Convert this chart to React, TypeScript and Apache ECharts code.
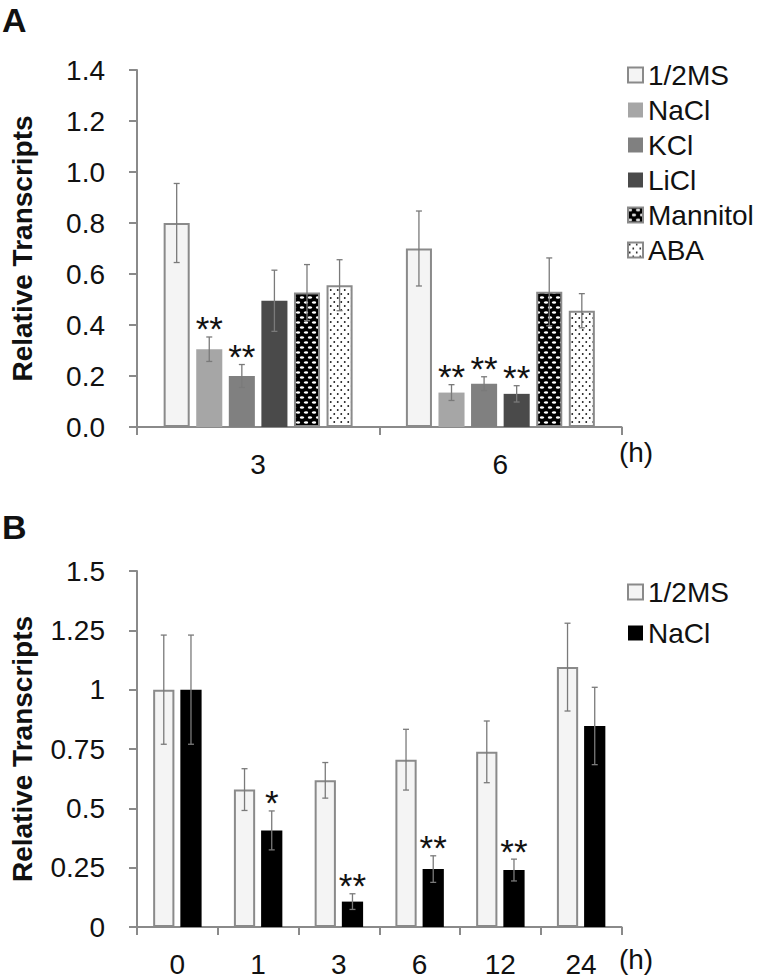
import React, { useEffect, useRef } from 'react';
import * as echarts from 'echarts';

// ---------- Panel A data ----------
const hoursA = ['3', '6'];
const namesA = ['1/2MS', 'NaCl', 'KCl', 'LiCl', 'Mannitol', 'ABA'];
const msA = [0.8, 0.7];
const msErrA = [0.155, 0.147];
const naclA = [0.305, 0.135];
const naclErrA = [0.048, 0.031];
const kclA = [0.2, 0.17];
const kclErrA = [0.045, 0.027];
const liclA = [0.495, 0.13];
const liclErrA = [0.12, 0.032];
const mannitolA = [0.527, 0.53];
const mannitolErrA = [0.11, 0.133];
const abaA = [0.556, 0.456];
const abaErrA = [0.1, 0.067];
const msStarsA = ['', ''];
const naclStarsA = ['**', '**'];
const kclStarsA = ['**', '**'];
const liclStarsA = ['', '**'];
const mannitolStarsA = ['', ''];
const abaStarsA = ['', ''];
const ticksA = [0, 0.2, 0.4, 0.6, 0.8, 1.0, 1.2, 1.4];

// ---------- Panel B data ----------
const hoursB = ['0', '1', '3', '6', '12', '24'];
const namesB = ['1/2MS', 'NaCl'];
const msB = [1.0, 0.579, 0.618, 0.705, 0.738, 1.095];
const msErrB = [0.23, 0.088, 0.075, 0.128, 0.13, 0.185];
const naclB = [1.0, 0.407, 0.107, 0.244, 0.24, 0.847];
const naclErrB = [0.23, 0.082, 0.033, 0.056, 0.046, 0.163];
const msStarsB = ['', '', '', '', '', ''];
const naclStarsB = ['', '*', '**', '**', '**', ''];
const ticksB = [0, 0.25, 0.5, 0.75, 1, 1.25, 1.5];

const FONT = "'Liberation Sans', Arial, Helvetica, sans-serif";
const AXIS = '#8a8a8a';
const INK = '#111111';
const BSUFFIX = ' (B)';

function makePattern(kind: string) {
  const c = document.createElement('canvas');
  const ctx = c.getContext('2d') as CanvasRenderingContext2D;
  if (kind === 'mannitol') {
    c.width = 8;
    c.height = 10;
    ctx.fillStyle = '#000';
    ctx.fillRect(0, 0, 8, 10);
    ctx.fillStyle = '#fff';
    const ovals = [[2, 2.5], [6, 7.5], [10, 2.5], [-2, 7.5]];
    ovals.forEach(([x, y]) => {
      ctx.beginPath();
      ctx.ellipse(x, y, 2.2, 1.2, 0, 0, Math.PI * 2);
      ctx.fill();
    });
    return { image: c, repeat: 'repeat', imageWidth: 8, imageHeight: 10 };
  }
  c.width = 7;
  c.height = 8;
  ctx.fillStyle = '#fff';
  ctx.fillRect(0, 0, 7, 8);
  ctx.fillStyle = '#1a1a1a';
  [[1.75, 2], [5.25, 6]].forEach(([x, y]) => {
    ctx.beginPath();
    ctx.arc(x, y, 0.95, 0, Math.PI * 2);
    ctx.fill();
  });
  return { image: c, repeat: 'repeat', imageWidth: 7, imageHeight: 8 };
}

function errorSeries(
  axisIdx: number,
  vals: number[],
  errs: number[],
  stars: string[],
  idx: number,
  n: number,
  catGap: number,
  barGap: number
) {
  return {
    type: 'custom',
    xAxisIndex: axisIdx,
    yAxisIndex: axisIdx,
    z: 5,
    silent: true,
    data: vals.map((v, i) => [i, v, errs[i]]),
    renderItem: (params: any, api: any) => {
      const i = api.value(0);
      const m = api.value(1);
      const e = api.value(2);
      const band = api.size([1, 0])[0];
      const w = (band * (1 - catGap)) / (n + (n - 1) * barGap);
      const total = n * w + (n - 1) * barGap * w;
      const off = -total / 2 + w / 2 + idx * w * (1 + barGap);
      const top = api.coord([i, m + e]);
      const bot = api.coord([i, m - e]);
      const x = top[0] + off;
      const st = { stroke: '#7a7a7a', lineWidth: 1.3 };
      const children: any[] = [
        { type: 'line', shape: { x1: x, y1: top[1], x2: x, y2: bot[1] }, style: st },
        { type: 'line', shape: { x1: x - 3, y1: top[1], x2: x + 3, y2: top[1] }, style: st },
        { type: 'line', shape: { x1: x - 3, y1: bot[1], x2: x + 3, y2: bot[1] }, style: st },
      ];
      if (stars[i]) {
        children.push({
          type: 'text',
          x,
          y: top[1] - 8,
          style: {
            text: stars[i],
            fill: INK,
            font: `35px ${FONT}`,
            align: 'center',
            verticalAlign: 'middle',
            textAlign: 'center',
            textVerticalAlign: 'middle',
          },
        });
      }
      return { type: 'group', children };
    },
  };
}

export default function App() {
  const ref = useRef<HTMLDivElement>(null);

  useEffect(() => {
    document.body.style.margin = '0';
    if (!ref.current) return;
    const chart = echarts.init(ref.current, undefined, { renderer: 'svg' });

    const mannitolFill = makePattern('mannitol');
    const abaFill = makePattern('aba');

    const catGapA = 0.22;
    const barGapA = 0.25;
    const catGapB = 0.4;
    const barGapB = 0.28;

    const styleA = [
      { color: '#f4f4f4', borderColor: AXIS, borderWidth: 2 },
      { color: '#a6a6a6', borderColor: '#a6a6a6', borderWidth: 0 },
      { color: '#808080', borderColor: '#808080', borderWidth: 0 },
      { color: '#4a4a4a', borderColor: '#4a4a4a', borderWidth: 0 },
      { color: mannitolFill, borderColor: AXIS, borderWidth: 2 },
      { color: abaFill, borderColor: AXIS, borderWidth: 2 },
    ];
    const valsA = [msA, naclA, kclA, liclA, mannitolA, abaA];
    const errsA = [msErrA, naclErrA, kclErrA, liclErrA, mannitolErrA, abaErrA];
    const starsA = [msStarsA, naclStarsA, kclStarsA, liclStarsA, mannitolStarsA, abaStarsA];

    const styleB = [
      { color: '#f4f4f4', borderColor: AXIS, borderWidth: 2 },
      { color: '#000000', borderColor: '#000000', borderWidth: 0 },
    ];
    const valsB = [msB, naclB];
    const errsB = [msErrB, naclErrB];
    const starsB = [msStarsB, naclStarsB];

    const barsA = namesA.map((name, k) => ({
      type: 'bar',
      name,
      xAxisIndex: 0,
      yAxisIndex: 0,
      data: valsA[k],
      barCategoryGap: `${catGapA * 100}%`,
      barGap: `${barGapA * 100}%`,
      itemStyle: styleA[k],
      emphasis: { disabled: true },
      z: 2,
    }));
    const barsB = namesB.map((name, k) => ({
      type: 'bar',
      name: name + BSUFFIX,
      xAxisIndex: 1,
      yAxisIndex: 1,
      data: valsB[k],
      barCategoryGap: `${catGapB * 100}%`,
      barGap: `${barGapB * 100}%`,
      itemStyle: styleB[k],
      emphasis: { disabled: true },
      z: 2,
    }));
    const errA = namesA.map((_, k) =>
      errorSeries(0, valsA[k], errsA[k], starsA[k], k, namesA.length, catGapA, barGapA)
    );
    const errB = namesB.map((_, k) =>
      errorSeries(1, valsB[k], errsB[k], starsB[k], k, namesB.length, catGapB, barGapB)
    );

    const axisLine = { show: true, lineStyle: { color: AXIS, width: 2 } };
    const axisTick = { show: true, length: 8, lineStyle: { color: AXIS, width: 2 } };
    const labelStyle = { fontSize: 28, color: INK, fontFamily: FONT };

    const xAxisCommon = {
      type: 'category',
      axisLine,
      axisTick,
      axisLabel: { ...labelStyle, margin: 23 },
      splitLine: { show: false },
    };
    const yAxisCommon = {
      type: 'value',
      min: 0,
      axisLine,
      axisTick,
      splitLine: { show: false },
      nameLocation: 'middle',
      name: 'Relative Transcripts',
      nameGap: 101,
      nameTextStyle: { fontSize: 28, fontWeight: 'bold', color: INK, fontFamily: FONT },
    };

    const legendCommon = {
      orient: 'vertical',
      left: 627,
      icon: 'rect',
      itemWidth: 15,
      itemHeight: 15,
      selectedMode: false,
      padding: 0,
      textStyle: { fontSize: 28, lineHeight: 28, color: INK, fontFamily: FONT },
    };

    chart.setOption({
      animation: false,
      grid: [
        { left: 132, right: 137.5, top: 70, height: 357 },
        { left: 132, right: 137.5, top: 571, height: 358 },
      ],
      xAxis: [
        { ...xAxisCommon, gridIndex: 0, data: hoursA },
        { ...xAxisCommon, gridIndex: 1, data: hoursB },
      ],
      yAxis: [
        {
          ...yAxisCommon,
          gridIndex: 0,
          max: ticksA[ticksA.length - 1],
          interval: ticksA[1] - ticksA[0],
          axisLabel: { ...labelStyle, margin: 32, formatter: (v: number) => v.toFixed(1) },
        },
        {
          ...yAxisCommon,
          gridIndex: 1,
          max: ticksB[ticksB.length - 1],
          interval: ticksB[1] - ticksB[0],
          axisLabel: { ...labelStyle, margin: 32 },
        },
      ],
      legend: [
        { ...legendCommon, top: 61, itemGap: 7, data: namesA },
        {
          ...legendCommon,
          top: 578,
          itemGap: 13,
          data: namesB.map((n) => n + BSUFFIX),
          formatter: (n: string) => n.replace(BSUFFIX, ''),
        },
      ],
      graphic: [
        { type: 'text', x: 2, y: 20, style: { text: 'A', font: `bold 34px ${FONT}`, fill: INK, align: 'left', verticalAlign: 'middle' } },
        { type: 'text', x: 2, y: 527, style: { text: 'B', font: `bold 34px ${FONT}`, fill: INK, align: 'left', verticalAlign: 'middle' } },
        { type: 'text', x: 636, y: 452, style: { text: '(h)', font: `28px ${FONT}`, fill: INK, align: 'center', verticalAlign: 'middle' } },
        { type: 'text', x: 636, y: 959, style: { text: '(h)', font: `28px ${FONT}`, fill: INK, align: 'center', verticalAlign: 'middle' } },
      ],
      series: [...barsA, ...barsB, ...errA, ...errB],
    });

    return () => chart.dispose();
  }, []);

  return (
    <div
      ref={ref}
      style={{ position: 'absolute', left: 0, top: 0, width: 759, height: 978, background: '#fff' }}
    />
  );
}
